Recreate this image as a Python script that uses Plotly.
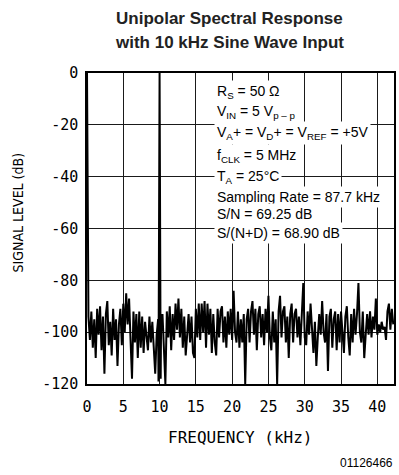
import plotly.graph_objects as go

# ---------------- data ----------------
# noise-floor spectrum sampled every 0.2 kHz from 0.2 to 42.2 kHz (10.0 kHz = signal peak)
grid_step_khz = 0.2
level_db = [
    -94, -103, -92, -106, -95, -110, -91, -101, -90, -107,     # 0.2 - 2.0
    -94, -116, -93, -88, -105, -96, -109, -91, -103, -95,      # 2.2 - 4.0
    -113, -97, -91, -105, -89, -100, -85, -97, -87, -103,      # 4.2 - 6.0
    -118, -92, -104, -93, -110, -92, -106, -94, -108, -96,     # 6.2 - 8.0
    -103, -107, -94, -104, -96, -106, -116, -101, -95, 0,      # 8.2 - 10.0
    -100, -93, -105, -120, -92, -102, -90, -107, -93, -103,    # 10.2 - 12.0
    -89, -99, -87, -102, -91, -106, -94, -109, -101, -93,      # 12.2 - 14.0
    -104, -94, -108, -110, -91, -102, -89, -103, -89, -100,    # 14.2 - 16.0
    -88, -106, -89, -101, -91, -108, -93, -104, -109, -91,     # 16.2 - 18.0
    -102, -92, -90, -104, -94, -106, -92, -101, -91, -103,     # 18.2 - 20.0
    -84, -100, -104, -92, -106, -95, -104, -93, -120, -95,     # 20.2 - 22.0
    -91, -104, -92, -88, -101, -91, -107, -93, -90, -102,      # 22.2 - 24.0
    -93, -105, -91, -100, -86, -102, -107, -92, -104, -95,     # 24.2 - 26.0
    -120, -92, -86, -102, -92, -90, -104, -94, -110, -93,      # 26.2 - 28.0
    -89, -104, -93, -91, -102, -94, -105, -92, -81, -102,      # 28.2 - 30.0
    -105, -92, -101, -89, -100, -108, -96, -113, -102, -93,    # 30.2 - 32.0
    -101, -88, -100, -104, -93, -115, -94, -91, -106, -95,     # 32.2 - 34.0
    -92, -107, -93, -104, -92, -102, -108, -94, -90, -102,     # 34.2 - 36.0
    -109, -93, -104, -91, -101, -93, -81, -100, -104, -92,     # 36.2 - 38.0
    -110, -101, -93, -101, -92, -102, -94, -99, -87, -101,     # 38.2 - 40.0
    -97, -100, -96, -99, -98, -103, -92, -89, -99, -91,        # 40.2 - 42.0
    -97,                                                       # 42.2
]
grid_khz = [round(grid_step_khz * (i + 1), 1) for i in range(len(level_db))]

# DC component and the notch either side of the 10 kHz fundamental
extra_khz = [0.0, 9.85, 10.15]
extra_db = [0, -119, -118]

x_ticks = [0, 5, 10, 15, 20, 25, 30, 35, 40]
y_ticks = [0, -20, -40, -60, -80, -100, -120]
y_tick_text = ["0", "-20", "-40", "-60", "-80", "-100", "-120"]

notes = [
    "R<sub>S</sub> = 50 Ω",
    "V<sub>IN</sub> = 5 V<sub>p – p</sub>",
    "V<sub>A</sub>+ = V<sub>D</sub>+ = V<sub>REF</sub> = +5V",
    "f<sub>CLK</sub> = 5 MHz",
    "T<sub>A</sub> = 25°C",
    "Sampling Rate = 87.7 kHz",
    "S/N = 69.25 dB",
    "S/(N+D) = 68.90 dB",
]

# ---------------- build ----------------
pts = sorted(zip(grid_khz + extra_khz, level_db + extra_db))
freq = [p[0] for p in pts]
lev = [p[1] for p in pts]

W, H = 399, 475
L, R, T, B = 87, 3, 73, 91
pw, ph = W - L - R, H - T - B


def px(x):
    return (x - L) / pw


def py(y):
    return (H - B - y) / ph


fig = go.Figure()
fig.add_trace(go.Scatter(x=freq, y=lev, mode="lines",
                         line=dict(color="black", width=2), hoverinfo="skip"))

mono = "DejaVu Sans Mono"
fig.update_xaxes(range=[0, 42.3], tickvals=x_ticks, ticks="", showgrid=True,
                 gridcolor="#1a1a1a", gridwidth=1, zeroline=False,
                 showline=True, mirror=True, linecolor="black", linewidth=1.5,
                 tickfont=dict(family=mono, size=15, color="black"),
                 ticklabelstandoff=8)
fig.update_yaxes(range=[-120, 0], tickvals=y_ticks, ticktext=y_tick_text, ticks="",
                 showgrid=True, gridcolor="#1a1a1a", gridwidth=1, zeroline=False,
                 showline=True, mirror=True, linecolor="black", linewidth=1.5,
                 tickfont=dict(family=mono, size=15, color="black"),
                 ticklabelstandoff=4)

ann = []
ann.append(dict(text="<b>Unipolar Spectral Response</b>", x=px(230), y=py(18)))
ann.append(dict(text="<b>with 10 kHz Sine Wave Input</b>", x=px(230), y=py(42)))
for a in ann:
    a.update(xref="paper", yref="paper", showarrow=False, xanchor="center",
             yanchor="middle", font=dict(family="Liberation Sans", size=17, color="#222"))

ann.append(dict(text="SIGNAL LEVEL (dB)", x=px(18), y=py(212), xref="paper", yref="paper",
                showarrow=False, textangle=-90, xanchor="center", yanchor="middle",
                font=dict(family="Liberation Sans Narrow, DejaVu Sans Condensed, Liberation Sans",
                          size=14, color="black")))
ann.append(dict(text="FREQUENCY (kHz)", x=px(242), y=py(437), xref="paper", yref="paper",
                showarrow=False, xanchor="center", yanchor="middle",
                font=dict(family=mono, size=16, color="black")))
ann.append(dict(text="01126466", x=px(397), y=py(463), xref="paper", yref="paper",
                showarrow=False, xanchor="right", yanchor="middle",
                font=dict(family="Liberation Sans", size=12, color="black")))

note_y = [92, 112, 133, 156, 177, 197, 214, 233]
for t, yy in zip(notes, note_y):
    ann.append(dict(text=t, x=px(215), y=py(yy), xref="paper", yref="paper",
                    showarrow=False, xanchor="left", yanchor="middle",
                    bgcolor="white", borderpad=2,
                    font=dict(family="Liberation Sans", size=14, color="black")))

fig.update_layout(width=W, height=H, margin=dict(l=L, r=R, t=T, b=B),
                  paper_bgcolor="white", plot_bgcolor="white",
                  showlegend=False, annotations=ann)

fig.write_html("out.html", config={"displayModeBar": False},
               post_script="document.body.style.margin='0';document.body.style.overflow='hidden';")
